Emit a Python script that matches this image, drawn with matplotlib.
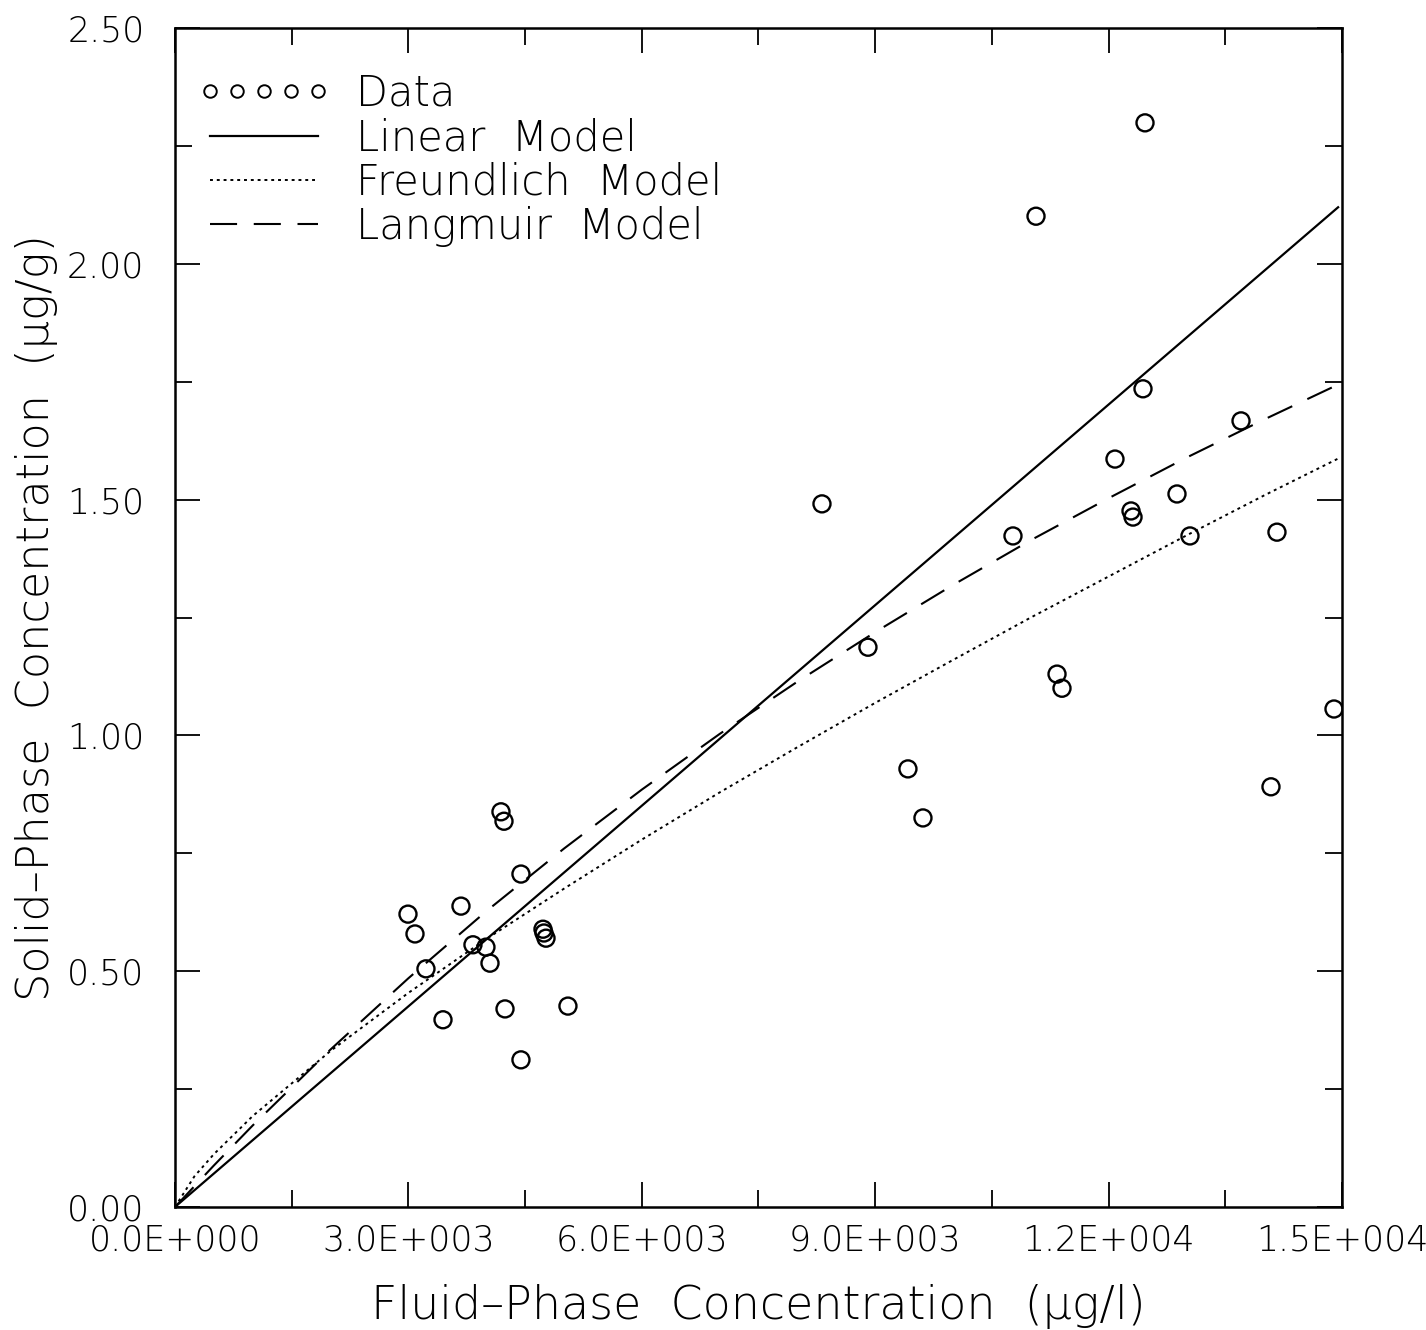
import matplotlib
matplotlib.use("Agg")
import matplotlib.pyplot as plt
from matplotlib.lines import Line2D
from matplotlib.ticker import MultipleLocator, FuncFormatter

plt.rcParams["font.family"] = ["DejaVu Sans"]
plt.rcParams["font.weight"] = "light"

# measured sorption data (fluid-phase ug/l, solid-phase ug/g)
fluid = [2995, 3085, 3226, 3445, 3676, 3830, 3997, 4049, 4190, 4229,
         4242, 4447, 4447, 4730, 4743, 4769, 5051, 8316, 8907, 9421,
         9614, 10771, 11067, 11337, 11401, 12082, 12288, 12314, 12442, 12468,
         12879, 13046, 13702, 14087, 14164, 14897]
solid = [0.621, 0.579, 0.505, 0.397, 0.638, 0.556, 0.551, 0.517, 0.838, 0.818,
         0.420, 0.706, 0.312, 0.589, 0.581, 0.570, 0.426, 1.491, 1.187, 0.929,
         0.825, 1.423, 2.101, 1.130, 1.100, 1.586, 1.476, 1.463, 1.735, 2.299,
         1.512, 1.423, 1.667, 0.891, 1.431, 1.056]

# fitted isotherms, sampled along the fluid-phase axis
linear_x = [0, 14950]
linear_y = [0.0, 2.120]

curve_x = [0, 250, 500, 1000, 2000, 3000, 4000, 5000, 6000, 7000,
           8000, 9000, 10000, 11000, 12000, 13000, 14000, 14950]
freundlich_y = [0.0, 0.065, 0.112, 0.193, 0.331, 0.454, 0.568, 0.675, 0.779, 0.879,
                0.975, 1.069, 1.160, 1.250, 1.337, 1.424, 1.509, 1.587]
langmuir_y = [0.0, 0.044, 0.088, 0.173, 0.334, 0.485, 0.627, 0.760, 0.885, 1.003,
              1.114, 1.219, 1.319, 1.414, 1.503, 1.589, 1.670, 1.744]

DOTTED = (0, (1.5, 2.0))
DASHED = (0, (13, 8))

fig = plt.figure(figsize=(14.26, 13.30), dpi=100)
ax = fig.add_axes([0.1227, 0.0925, 0.8184, 0.8864])

ax.plot(linear_x, linear_y, "-", color="black", lw=1.6)
ax.plot(curve_x, freundlich_y, color="black", lw=1.4, linestyle=DOTTED)
ax.plot(curve_x, langmuir_y, color="black", lw=1.5, linestyle=DASHED)
ax.scatter(fluid, solid, s=150, facecolors="none", edgecolors="black", linewidths=1.7,
           zorder=3)

ax.set_xlim(0, 15000)
ax.set_ylim(0, 2.5)

def sci3(v, pos):
    if v == 0:
        return "0.0E+000"
    exp = 0
    m = v
    while abs(m) >= 10:
        m /= 10
        exp += 1
    return f"{m:.1f}E+{exp:03d}"

ax.xaxis.set_major_locator(MultipleLocator(3000))
ax.xaxis.set_minor_locator(MultipleLocator(1500))
ax.yaxis.set_major_locator(MultipleLocator(0.5))
ax.yaxis.set_minor_locator(MultipleLocator(0.25))
ax.xaxis.set_major_formatter(FuncFormatter(sci3))
ax.yaxis.set_major_formatter(FuncFormatter(lambda v, p: f"{v:.2f}"))

ax.tick_params(which="both", direction="in", top=True, right=True, width=1.3,
               colors="black")
ax.tick_params(which="major", length=18)
ax.tick_params(which="minor", length=12)
ax.tick_params(axis="x", labelsize=25, pad=12)
ax.tick_params(axis="y", labelsize=25, pad=22)
for s in ax.spines.values():
    s.set_linewidth(1.8)

ax.set_xlabel("Fluid\u2013Phase  Concentration  (\u03bcg/l)", fontsize=33,
              fontweight="light", labelpad=19)
ax.set_ylabel("Solid\u2013Phase  Concentration  (\u03bcg/g)", fontsize=32,
              fontweight="light")
ax.yaxis.set_label_coords(-0.100, 0.5)

handles = [
    Line2D([], [], linestyle="none", marker="o", markersize=9, markerfacecolor="none",
           markeredgecolor="black", markeredgewidth=1.4),
    Line2D([], [], color="black", lw=1.6),
    Line2D([], [], color="black", lw=1.4, linestyle=DOTTED),
    Line2D([], [], color="black", lw=1.5, linestyle=DASHED),
]
labels = ["Data", "Linear  Model", "Freundlich  Model", "Langmuir  Model"]
ax.legend(handles, labels, loc="upper left", bbox_to_anchor=(0.019, 0.962),
          frameon=False, fontsize=30, handlelength=3.2, handletextpad=0.62,
          labelspacing=0.08, borderpad=0, numpoints=5, borderaxespad=0)

fig.savefig("out.png", dpi=100)
